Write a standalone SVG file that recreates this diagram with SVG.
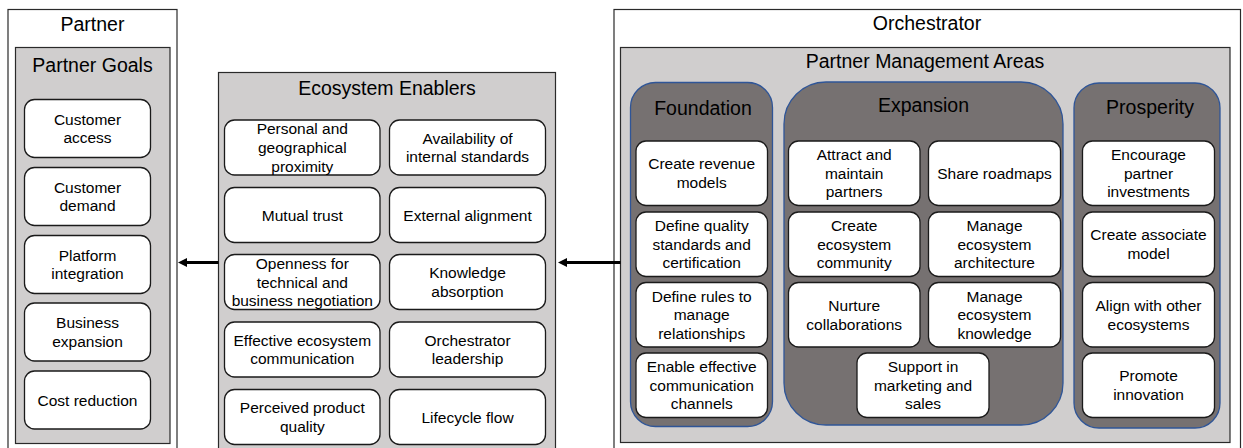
<svg xmlns="http://www.w3.org/2000/svg" width="1243" height="448" viewBox="0 0 1243 448">
<style>
text{font-family:"Liberation Sans",Arial,sans-serif;fill:#000;text-anchor:middle}
.t{font-size:19.5px}
.b{font-size:15.5px}
.outer{fill:#fff;stroke:#2a2a2a;stroke-width:1.2}
.gray{fill:#d0cece;stroke:#2a2a2a;stroke-width:1.2}
.area{fill:#767171;stroke:#2f5597;stroke-width:1.3}
.box{fill:#fff;stroke:#1a1a1a;stroke-width:1.3}
.conn{stroke:#000;stroke-width:3.2;fill:none}
</style>
<defs>
<marker id="ah" viewBox="0 0 9 9" refX="0.5" refY="4.5" markerWidth="9" markerHeight="9" markerUnits="userSpaceOnUse" orient="auto">
<path d="M0,0 L9,4.5 L0,9 z" fill="#000"/>
</marker>
</defs>

<g id="partner">
<rect class="outer" x="8" y="9.5" width="169" height="460"/>
<text class="t" x="92.5" y="30.5">Partner</text>
</g>
<g id="partner-goals">
<rect class="gray" x="15.5" y="47.5" width="154.5" height="396"/>
<text class="t" x="92.5" y="72">Partner Goals</text>
</g>
<g id="goal-customer-access"><rect class="box" x="24.5" y="99.5" width="126" height="58" rx="10"/><text class="b"><tspan x="87.5" y="124.7">Customer</tspan><tspan x="87.5" y="143.4">access</tspan></text></g>
<g id="goal-customer-demand"><rect class="box" x="24.5" y="167.5" width="126" height="58" rx="10"/><text class="b"><tspan x="87.5" y="192.7">Customer</tspan><tspan x="87.5" y="211.4">demand</tspan></text></g>
<g id="goal-platform-integration"><rect class="box" x="24.5" y="235.5" width="126" height="58" rx="10"/><text class="b"><tspan x="87.5" y="260.7">Platform</tspan><tspan x="87.5" y="279.4">integration</tspan></text></g>
<g id="goal-business-expansion"><rect class="box" x="24.5" y="303" width="126" height="58" rx="10"/><text class="b"><tspan x="87.5" y="328.2">Business</tspan><tspan x="87.5" y="346.9">expansion</tspan></text></g>
<g id="goal-cost-reduction"><rect class="box" x="24.5" y="371" width="126" height="58" rx="10"/><text class="b" x="87.5" y="405.5">Cost reduction</text></g>

<g id="ecosystem-enablers">
<rect class="gray" x="218.5" y="72.5" width="337" height="400"/>
<text class="t" x="387" y="95">Ecosystem Enablers</text>
</g>
<g id="en-proximity"><rect class="box" x="224.5" y="120" width="155.5" height="55" rx="10"/><text class="b"><tspan x="302.3" y="134.3">Personal and</tspan><tspan x="302.3" y="153">geographical</tspan><tspan x="302.3" y="171.7">proximity</tspan></text></g>
<g id="en-standards"><rect class="box" x="389.5" y="120" width="156" height="55" rx="10"/><text class="b"><tspan x="467.5" y="143.7">Availability of</tspan><tspan x="467.5" y="162.4">internal standards</tspan></text></g>
<g id="en-trust"><rect class="box" x="224.5" y="187.5" width="155.5" height="55" rx="10"/><text class="b" x="302.3" y="220.5">Mutual trust</text></g>
<g id="en-alignment"><rect class="box" x="389.5" y="187.5" width="156" height="55" rx="10"/><text class="b" x="467.5" y="220.5">External alignment</text></g>
<g id="en-openness"><rect class="box" x="224.5" y="254.5" width="155.5" height="55" rx="10"/><text class="b"><tspan x="302.3" y="268.8">Openness for</tspan><tspan x="302.3" y="287.5">technical and</tspan><tspan x="302.3" y="306.2">business negotiation</tspan></text></g>
<g id="en-knowledge"><rect class="box" x="389.5" y="254.5" width="156" height="55" rx="10"/><text class="b"><tspan x="467.5" y="278.1">Knowledge</tspan><tspan x="467.5" y="296.8">absorption</tspan></text></g>
<g id="en-communication"><rect class="box" x="224.5" y="322" width="155.5" height="55" rx="10"/><text class="b"><tspan x="302.3" y="345.6">Effective ecosystem</tspan><tspan x="302.3" y="364.3">communication</tspan></text></g>
<g id="en-leadership"><rect class="box" x="389.5" y="322" width="156" height="55" rx="10"/><text class="b"><tspan x="467.5" y="345.6">Orchestrator</tspan><tspan x="467.5" y="364.3">leadership</tspan></text></g>
<g id="en-quality"><rect class="box" x="224.5" y="389.5" width="155.5" height="55" rx="10"/><text class="b"><tspan x="302.3" y="413.1">Perceived product</tspan><tspan x="302.3" y="431.8">quality</tspan></text></g>
<g id="en-lifecycle"><rect class="box" x="389.5" y="389.5" width="156" height="55" rx="10"/><text class="b" x="467.5" y="422.5">Lifecycle flow</text></g>

<g id="orchestrator">
<rect class="outer" x="614" y="9.5" width="626.5" height="460"/>
<text class="t" x="927" y="30">Orchestrator</text>
</g>
<g id="partner-management-areas">
<rect class="gray" x="620.5" y="47.5" width="609.5" height="395"/>
<text class="t" x="925" y="68">Partner Management Areas</text>
</g>
<g id="foundation">
<rect class="area" x="630.5" y="82.5" width="142" height="344" rx="25"/>
<text class="t" x="703" y="115">Foundation</text>
</g>
<g id="expansion">
<rect class="area" x="784" y="82" width="279" height="343" rx="42"/>
<text class="t" x="923.5" y="112">Expansion</text>
</g>
<g id="prosperity">
<rect class="area" x="1074" y="83" width="146" height="345" rx="25"/>
<text class="t" x="1150" y="114">Prosperity</text>
</g>

<g id="f-revenue"><rect class="box" x="636" y="141" width="131.5" height="64.5" rx="10"/><text class="b"><tspan x="701.7" y="169.4">Create revenue</tspan><tspan x="701.7" y="188.1">models</tspan></text></g>
<g id="f-quality"><rect class="box" x="636" y="212" width="131.5" height="64.5" rx="10"/><text class="b"><tspan x="701.7" y="231">Define quality</tspan><tspan x="701.7" y="249.7">standards and</tspan><tspan x="701.7" y="268.4">certification</tspan></text></g>
<g id="f-rules"><rect class="box" x="636" y="282.5" width="131.5" height="64.5" rx="10"/><text class="b"><tspan x="701.7" y="301.5">Define rules to</tspan><tspan x="701.7" y="320.2">manage</tspan><tspan x="701.7" y="338.9">relationships</tspan></text></g>
<g id="f-channels"><rect class="box" x="636" y="353" width="131.5" height="64.5" rx="10"/><text class="b"><tspan x="701.7" y="372">Enable effective</tspan><tspan x="701.7" y="390.7">communication</tspan><tspan x="701.7" y="409.4">channels</tspan></text></g>

<g id="e-attract"><rect class="box" x="788.5" y="141" width="131.5" height="64.5" rx="10"/><text class="b"><tspan x="854.2" y="160">Attract and</tspan><tspan x="854.2" y="178.7">maintain</tspan><tspan x="854.2" y="197.4">partners</tspan></text></g>
<g id="e-roadmaps"><rect class="box" x="928.5" y="141" width="132" height="64.5" rx="10"/><text class="b" x="994.5" y="178.7">Share roadmaps</text></g>
<g id="e-community"><rect class="box" x="788.5" y="212" width="131.5" height="64.5" rx="10"/><text class="b"><tspan x="854.2" y="231">Create</tspan><tspan x="854.2" y="249.7">ecosystem</tspan><tspan x="854.2" y="268.4">community</tspan></text></g>
<g id="e-architecture"><rect class="box" x="928.5" y="212" width="132" height="64.5" rx="10"/><text class="b"><tspan x="994.5" y="231">Manage</tspan><tspan x="994.5" y="249.7">ecosystem</tspan><tspan x="994.5" y="268.4">architecture</tspan></text></g>
<g id="e-collaborations"><rect class="box" x="788.5" y="282.5" width="131.5" height="64.5" rx="10"/><text class="b"><tspan x="854.2" y="310.9">Nurture</tspan><tspan x="854.2" y="329.6">collaborations</tspan></text></g>
<g id="e-knowledge"><rect class="box" x="928.5" y="282.5" width="132" height="64.5" rx="10"/><text class="b"><tspan x="994.5" y="301.5">Manage</tspan><tspan x="994.5" y="320.2">ecosystem</tspan><tspan x="994.5" y="338.9">knowledge</tspan></text></g>
<g id="e-marketing"><rect class="box" x="857" y="353" width="132" height="64.5" rx="10"/><text class="b"><tspan x="923" y="372">Support in</tspan><tspan x="923" y="390.7">marketing and</tspan><tspan x="923" y="409.4">sales</tspan></text></g>

<g id="p-investments"><rect class="box" x="1082.5" y="141" width="132" height="64.5" rx="10"/><text class="b"><tspan x="1148.5" y="160">Encourage</tspan><tspan x="1148.5" y="178.7">partner</tspan><tspan x="1148.5" y="197.4">investments</tspan></text></g>
<g id="p-associate"><rect class="box" x="1082.5" y="212" width="132" height="64.5" rx="10"/><text class="b"><tspan x="1148.5" y="240.4">Create associate</tspan><tspan x="1148.5" y="259.1">model</tspan></text></g>
<g id="p-align"><rect class="box" x="1082.5" y="282.5" width="132" height="64.5" rx="10"/><text class="b"><tspan x="1148.5" y="310.9">Align with other</tspan><tspan x="1148.5" y="329.6">ecosystems</tspan></text></g>
<g id="p-innovation"><rect class="box" x="1082.5" y="353" width="132" height="64.5" rx="10"/><text class="b"><tspan x="1148.5" y="381.4">Promote</tspan><tspan x="1148.5" y="400.1">innovation</tspan></text></g>

<g id="connectors">
<line class="conn" x1="218.5" y1="262.5" x2="186.5" y2="262.5" marker-end="url(#ah)"/>
<line class="conn" x1="620.5" y1="262.5" x2="566.5" y2="262.5" marker-end="url(#ah)"/>
</g>
</svg>
